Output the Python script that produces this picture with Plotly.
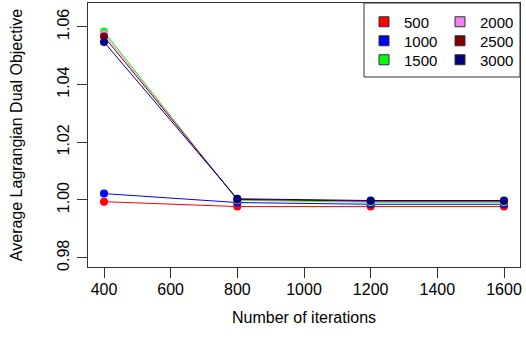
import plotly.graph_objects as go

iterations = [400, 800, 1200, 1600]
series_names = ["500", "1000", "1500", "2000", "2500", "3000"]
s500 = [0.9994, 0.9977, 0.9977, 0.9977]
s1000 = [1.0022, 0.9991, 0.9985, 0.9985]
s1500 = [1.0583, 0.9999, 0.9992, 0.9992]
s2000 = [1.0575, 1.0001, 0.9995, 0.9995]
s2500 = [1.0566, 1.0002, 0.9996, 0.9996]
s3000 = [1.0547, 1.0004, 0.9998, 0.9998]
y_ticks = [0.98, 1.00, 1.02, 1.04, 1.06]
x_ticks = [400, 600, 800, 1000, 1200, 1400, 1600]

series_values = [s500, s1000, s1500, s2000, s2500, s3000]
colors = ["#FF0000", "#0000FF", "#00FF00", "#EE82EE", "#7F0000", "#000080"]

W, H = 526, 349
L, R, T, B = 88, 6, 3, 82
pw, ph = W - L - R, H - T - B

def px_x(x):
    return (x - L) / pw

def px_y(y):
    return (H - B - y) / ph

FONT = "Liberation Sans, Arial, sans-serif"

fig = go.Figure()
for name, vals, c in zip(series_names, series_values, colors):
    fig.add_trace(go.Scatter(
        x=iterations, y=vals, mode="lines+markers", name=name,
        line=dict(color=c, width=1),
        marker=dict(color=c, size=8),
        showlegend=False,
    ))

# legend entries (filled squares), arranged in two columns
legend_keys = ["legend", "legend2", "legend3", "legend4", "legend5", "legend6"]
col_left = [364, 364, 364, 440, 440, 440]
row_y = [22, 41, 60, 22, 41, 60]
legend_layout = {}
for i, (name, c) in enumerate(zip(series_names, colors)):
    fig.add_trace(go.Scatter(
        x=[None], y=[None], mode="markers", name=name,
        marker=dict(symbol="square", size=10, color=c, line=dict(color="#333333", width=1)),
        legend=legend_keys[i], showlegend=True,
    ))
    legend_layout[legend_keys[i]] = dict(
        x=px_x(col_left[i]), xanchor="left",
        y=px_y(row_y[i]), yanchor="middle",
        bgcolor="rgba(0,0,0,0)", borderwidth=0,
        font=dict(family=FONT, size=15, color="black"),
    )

fig.update_layout(
    width=W, height=H,
    margin=dict(l=L, r=R, t=T, b=B, pad=0, autoexpand=False),
    paper_bgcolor="white", plot_bgcolor="white",
    font=dict(family=FONT, size=16, color="black"),
    **legend_layout,
    shapes=[dict(type="rect", xref="paper", yref="paper",
                 x0=px_x(364), x1=1.0, y0=px_y(77), y1=1.0,
                 line=dict(color="#333333", width=1), fillcolor="white", layer="below")],
)

fig.update_xaxes(
    automargin=False,
    range=[352, 1648], tickvals=x_ticks, ticktext=[str(v) for v in x_ticks],
    showgrid=False, zeroline=False, showline=True, mirror=True,
    linecolor="#333333", linewidth=1, ticks="outside", ticklen=10, tickcolor="#333333",
    tickfont=dict(size=16), ticklabelstandoff=-2,
    title=dict(text="Number of iterations", font=dict(size=16), standoff=14),
)
fig.update_yaxes(
    automargin=False,
    range=[0.97678, 1.06821], tickvals=y_ticks, ticktext=["%.2f" % v for v in y_ticks],
    showgrid=False, zeroline=False, showline=True, mirror=True,
    linecolor="#333333", linewidth=1, ticks="outside", ticklen=10, tickcolor="#333333",
    tickfont=dict(size=16), tickangle=-90, ticklabelstandoff=2,
    title=dict(text="Average Lagrangian Dual Objective", font=dict(size=16), standoff=27),
)

fig.write_html("out.html", config={"displayModeBar": False},
               post_script="document.body.style.margin='0px';")
